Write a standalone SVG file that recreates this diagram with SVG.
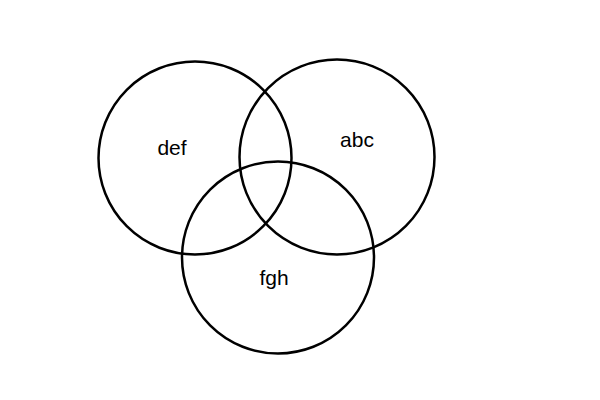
<svg xmlns="http://www.w3.org/2000/svg" width="600" height="400" viewBox="0 0 600 400">
<style>
.c{fill:none;stroke:#000;stroke-width:2.5}
.t{font-family:"Liberation Sans",Arial,sans-serif;font-size:21px;fill:#000;text-anchor:middle}
</style>
<rect width="600" height="400" fill="#fff"/>
<g id="def"><circle class="c" cx="195" cy="158" r="96.5"/><text class="t" x="172" y="155">def</text></g>
<g id="abc"><circle class="c" cx="337" cy="157" r="97.5"/><text class="t" x="357" y="147">abc</text></g>
<g id="fgh"><circle class="c" cx="278" cy="257.5" r="96"/><text class="t" x="274" y="285">fgh</text></g>
<g id="connectors"></g>
</svg>
